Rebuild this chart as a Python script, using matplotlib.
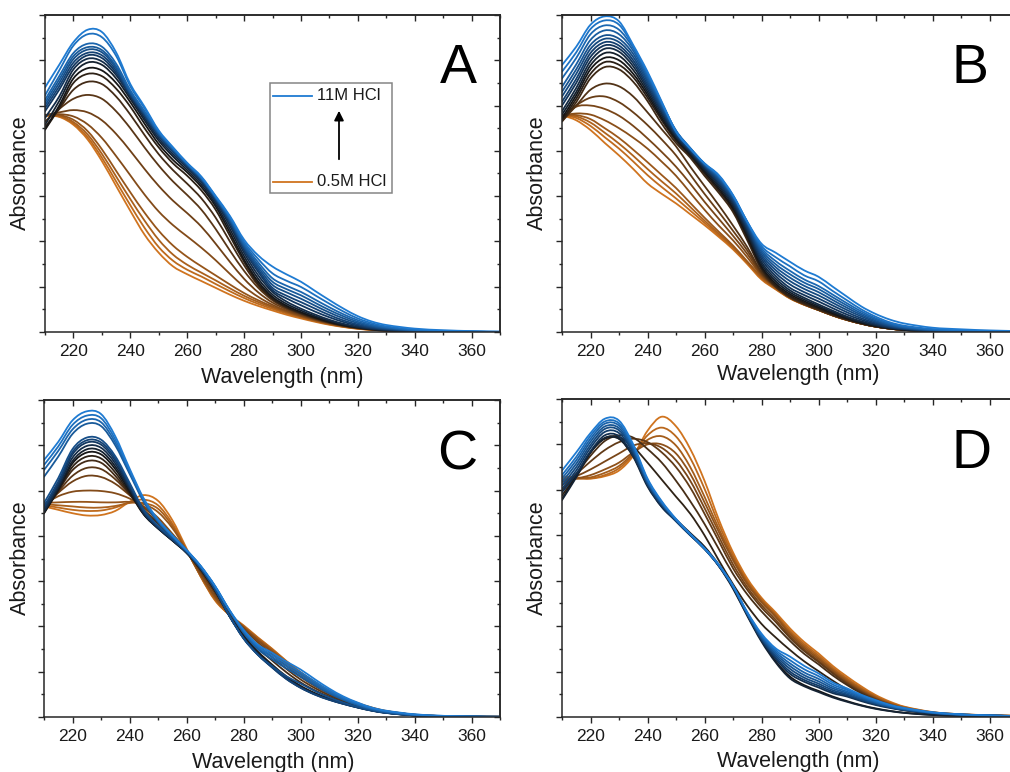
import numpy as np
import matplotlib
matplotlib.use("Agg")
import matplotlib.pyplot as plt
from matplotlib.colors import LinearSegmentedColormap
from matplotlib.ticker import MultipleLocator
from matplotlib.patches import Rectangle, FancyArrowPatch, PathPatch
from matplotlib.lines import Line2D
from matplotlib.path import Path

plt.rcParams['font.family'] = ['Liberation Sans', 'DejaVu Sans']

wavelength = [210, 215, 220, 225, 230, 235, 240, 245, 250, 255, 260, 265, 270, 275,
              280, 285, 290, 295, 300, 305, 310, 315, 320, 325, 330, 340, 350, 360, 370]

# rows ordered from 0.5M HCl (orange) to 11M HCl (blue)
panel_A = [
    [.955, .950, .915, .850, .755, .645, .535, .430, .350, .290, .255, .225, .195, .165, .138, .115, .095, .076, .060, .045, .032, .022, .014, .009, .006, .003, .001, 0, 0],
    [.956, .952, .920, .860, .770, .665, .560, .460, .375, .315, .275, .245, .212, .180, .150, .124, .102, .082, .064, .048, .034, .023, .015, .010, .006, .003, .001, 0, 0],
    [.957, .955, .927, .872, .787, .687, .587, .492, .407, .342, .297, .262, .228, .193, .160, .132, .108, .086, .067, .050, .036, .024, .016, .010, .006, .003, .001, 0, 0],
    [.958, .958, .937, .887, .807, .712, .617, .527, .447, .382, .332, .290, .250, .210, .172, .140, .113, .090, .070, .052, .037, .025, .016, .010, .006, .003, .001, 0, 0],
    [.958, .962, .952, .917, .857, .777, .692, .607, .532, .472, .422, .372, .317, .257, .200, .155, .120, .094, .072, .054, .038, .026, .017, .011, .007, .003, .001, 0, 0],
    [.958, .970, .980, .970, .935, .875, .800, .720, .645, .580, .525, .465, .390, .310, .235, .175, .130, .100, .076, .056, .040, .027, .017, .011, .007, .003, .001, 0, 0],
    [.930, .985, 1.030, 1.047, 1.030, .975, .900, .815, .735, .665, .605, .540, .455, .360, .270, .195, .140, .105, .080, .058, .041, .028, .018, .011, .007, .003, .001, 0, 0],
    [.905, .985, 1.070, 1.105, 1.095, 1.040, .960, .870, .785, .715, .655, .590, .505, .400, .295, .205, .145, .108, .082, .060, .042, .028, .018, .011, .007, .003, .001, 0, 0],
    [.893, .990, 1.100, 1.140, 1.130, 1.075, .995, .900, .815, .745, .690, .625, .540, .425, .310, .212, .148, .110, .084, .062, .043, .029, .019, .012, .007, .003, .001, 0, 0],
    [.895, 1.000, 1.120, 1.165, 1.155, 1.100, 1.015, .920, .830, .760, .705, .640, .555, .440, .320, .222, .155, .116, .088, .065, .045, .030, .020, .012, .008, .003, .001, 0, 0],
    [.915, 1.020, 1.140, 1.190, 1.180, 1.120, 1.030, .935, .845, .775, .715, .650, .565, .455, .335, .235, .165, .124, .095, .070, .049, .033, .021, .013, .008, .003, .001, 0, 0],
    [.945, 1.040, 1.160, 1.207, 1.195, 1.135, 1.040, .945, .855, .785, .725, .660, .575, .470, .350, .250, .177, .134, .103, .077, .054, .036, .023, .014, .009, .004, .001, 0, 0],
    [.975, 1.070, 1.175, 1.222, 1.210, 1.145, 1.045, .955, .865, .795, .732, .668, .583, .482, .362, .265, .185, .148, .118, .090, .065, .044, .028, .017, .011, .004, .002, .001, 0],
    [.988, 1.085, 1.190, 1.233, 1.222, 1.155, 1.050, .960, .870, .800, .736, .673, .588, .488, .370, .275, .195, .160, .132, .103, .075, .051, .033, .020, .013, .005, .002, .001, 0],
    [1.000, 1.100, 1.205, 1.247, 1.235, 1.165, 1.055, .965, .874, .804, .739, .676, .591, .493, .376, .285, .208, .175, .147, .116, .086, .060, .039, .024, .015, .006, .002, .001, 0],
    [1.012, 1.115, 1.218, 1.258, 1.245, 1.173, 1.060, .970, .877, .807, .741, .678, .594, .498, .383, .295, .222, .189, .162, .129, .097, .069, .045, .028, .018, .007, .003, .001, 0],
    [1.025, 1.130, 1.232, 1.273, 1.260, 1.185, 1.068, .975, .881, .810, .743, .680, .596, .503, .390, .307, .237, .204, .177, .143, .109, .078, .052, .033, .021, .008, .003, .001, 0],
    [1.045, 1.155, 1.265, 1.315, 1.302, 1.220, 1.085, .988, .886, .813, .745, .683, .598, .508, .398, .322, .259, .226, .199, .162, .125, .090, .060, .039, .025, .010, .004, .002, .001],
    [1.080, 1.180, 1.280, 1.335, 1.325, 1.235, 1.095, .995, .890, .816, .747, .686, .601, .513, .408, .338, .289, .254, .222, .181, .141, .103, .070, .046, .031, .015, .008, .004, .002],
]

panel_B = [
    [.958, .935, .892, .835, .780, .720, .656, .610, .568, .520, .472, .420, .365, .300, .232, .188, .148, .120, .097, .073, .053, .037, .024, .015, .009, .003, .001, 0, 0],
    [.958, .945, .910, .860, .810, .753, .693, .640, .590, .536, .482, .427, .370, .304, .236, .190, .149, .120, .097, .073, .053, .037, .024, .015, .009, .003, .001, 0, 0],
    [.958, .952, .925, .880, .832, .778, .720, .665, .612, .552, .492, .434, .376, .308, .240, .192, .150, .121, .097, .073, .053, .037, .024, .015, .009, .003, .001, 0, 0],
    [.958, .958, .940, .900, .857, .805, .750, .693, .636, .570, .505, .443, .382, .312, .244, .194, .151, .121, .097, .073, .053, .037, .024, .015, .009, .003, .001, 0, 0],
    [.955, .965, .960, .935, .900, .858, .810, .752, .690, .615, .540, .470, .405, .330, .250, .196, .152, .122, .098, .074, .054, .037, .024, .015, .009, .003, .001, 0, 0],
    [.945, .995, 1.000, .985, .955, .910, .855, .795, .730, .655, .575, .500, .425, .345, .255, .198, .153, .123, .098, .074, .054, .037, .024, .015, .009, .003, .001, 0, 0],
    [.940, 1.000, 1.035, 1.040, 1.015, .970, .914, .850, .780, .695, .610, .530, .447, .360, .260, .200, .153, .123, .098, .074, .054, .037, .024, .015, .009, .003, .001, 0, 0],
    [.930, 1.000, 1.070, 1.097, 1.085, 1.040, .970, .895, .820, .730, .645, .560, .470, .375, .265, .200, .153, .123, .098, .074, .054, .037, .024, .015, .009, .003, .001, 0, 0],
    [.930, 1.015, 1.120, 1.170, 1.160, 1.105, 1.020, .920, .835, .770, .690, .615, .530, .405, .275, .200, .155, .125, .100, .076, .055, .038, .025, .015, .009, .003, .001, 0, 0],
    [.935, 1.030, 1.140, 1.192, 1.180, 1.125, 1.035, .935, .845, .778, .700, .625, .540, .415, .282, .206, .160, .130, .104, .079, .057, .039, .025, .016, .010, .003, .001, 0, 0],
    [.945, 1.045, 1.160, 1.211, 1.200, 1.140, 1.048, .945, .853, .785, .708, .634, .548, .425, .290, .214, .167, .136, .109, .083, .060, .041, .027, .017, .010, .004, .001, 0, 0],
    [.960, 1.060, 1.178, 1.232, 1.220, 1.157, 1.060, .955, .860, .790, .715, .643, .557, .435, .300, .224, .175, .143, .115, .088, .064, .044, .029, .018, .011, .004, .002, 0, 0],
    [.975, 1.078, 1.196, 1.251, 1.238, 1.173, 1.072, .965, .866, .795, .722, .651, .566, .445, .310, .235, .184, .151, .122, .094, .068, .047, .031, .019, .012, .004, .002, 0, 0],
    [1.000, 1.100, 1.215, 1.266, 1.252, 1.187, 1.083, .975, .871, .800, .728, .659, .574, .455, .322, .247, .195, .163, .135, .105, .077, .054, .035, .021, .013, .005, .002, .001, 0],
    [1.017, 1.118, 1.232, 1.280, 1.265, 1.200, 1.094, .983, .876, .803, .732, .666, .582, .463, .333, .260, .210, .176, .148, .117, .087, .061, .040, .024, .015, .006, .003, .001, 0],
    [1.040, 1.140, 1.250, 1.295, 1.280, 1.214, 1.105, .990, .880, .806, .736, .672, .588, .471, .343, .273, .225, .190, .162, .129, .097, .069, .045, .027, .017, .007, .003, .001, 0],
    [1.061, 1.160, 1.268, 1.310, 1.295, 1.228, 1.115, .998, .884, .809, .739, .678, .594, .477, .353, .286, .240, .204, .176, .141, .107, .076, .050, .030, .019, .008, .004, .002, .001],
    [1.083, 1.182, 1.290, 1.332, 1.315, 1.242, 1.125, 1.004, .887, .811, .741, .683, .598, .482, .362, .299, .255, .218, .190, .153, .117, .083, .056, .034, .021, .009, .005, .002, .001],
    [1.120, 1.210, 1.315, 1.354, 1.335, 1.254, 1.135, 1.009, .890, .813, .743, .687, .601, .485, .371, .313, .270, .232, .203, .165, .127, .091, .061, .038, .024, .011, .006, .003, .001],
    [1.150, 1.235, 1.338, 1.376, 1.357, 1.262, 1.143, 1.013, .888, .811, .744, .690, .603, .487, .380, .330, .290, .250, .224, .181, .140, .100, .068, .043, .028, .013, .007, .004, .002],
    [1.179, 1.260, 1.357, 1.394, 1.372, 1.267, 1.150, 1.017, .885, .810, .745, .693, .605, .487, .390, .350, .310, .272, .244, .200, .156, .113, .080, .055, .038, .019, .012, .007, .004],
]

panel_C = [
    [.930, .915, .900, .890, .892, .910, .950, .980, .955, .870, .745, .620, .515, .452, .405, .352, .302, .248, .198, .155, .118, .087, .062, .042, .027, .010, .004, .002, .001],
    [.935, .925, .915, .910, .912, .925, .948, .960, .935, .855, .740, .620, .518, .452, .402, .350, .300, .246, .197, .154, .117, .086, .061, .041, .026, .010, .004, .002, .001],
    [.940, .935, .930, .925, .925, .932, .945, .945, .920, .845, .737, .622, .522, .452, .400, .347, .297, .244, .195, .152, .116, .085, .060, .040, .026, .010, .004, .002, .001],
    [.945, .948, .950, .950, .948, .948, .950, .940, .905, .835, .735, .625, .528, .455, .398, .343, .293, .241, .193, .150, .114, .084, .059, .040, .025, .010, .004, .002, .001],
    [.940, .975, .995, 1.000, .998, .988, .965, .930, .880, .810, .735, .630, .535, .460, .395, .338, .287, .236, .188, .146, .111, .082, .057, .038, .024, .009, .004, .002, .001],
    [.930, .990, 1.040, 1.065, 1.060, 1.030, .980, .925, .870, .800, .733, .640, .545, .460, .390, .330, .278, .226, .178, .137, .104, .077, .054, .036, .023, .009, .004, .002, .001],
    [.920, .995, 1.065, 1.100, 1.095, 1.050, .985, .915, .860, .795, .731, .645, .552, .458, .380, .318, .265, .213, .166, .128, .097, .072, .051, .034, .022, .008, .003, .001, 0],
    [.910, 1.000, 1.090, 1.130, 1.123, 1.065, .985, .905, .855, .790, .730, .650, .558, .455, .372, .305, .250, .198, .153, .118, .090, .067, .048, .032, .021, .008, .003, .001, 0],
    [.900, 1.000, 1.105, 1.150, 1.142, 1.080, .990, .895, .835, .780, .725, .652, .560, .450, .362, .290, .232, .180, .138, .106, .082, .062, .045, .030, .020, .007, .003, .001, 0],
    [.900, 1.005, 1.120, 1.168, 1.160, 1.095, .998, .895, .833, .780, .725, .653, .560, .448, .357, .285, .228, .176, .135, .104, .080, .061, .044, .030, .019, .007, .003, .001, 0],
    [.905, 1.010, 1.130, 1.182, 1.174, 1.107, 1.005, .897, .833, .781, .726, .654, .561, .447, .353, .281, .225, .173, .133, .102, .079, .060, .043, .029, .019, .007, .003, .001, 0],
    [.910, 1.020, 1.145, 1.197, 1.189, 1.120, 1.012, .900, .835, .782, .727, .655, .562, .447, .350, .278, .222, .171, .131, .101, .078, .059, .043, .029, .019, .007, .003, .001, 0],
    [.920, 1.030, 1.160, 1.212, 1.203, 1.132, 1.020, .905, .838, .784, .728, .656, .563, .447, .348, .276, .220, .169, .130, .100, .077, .058, .042, .028, .018, .007, .003, .001, 0],
    [.930, 1.040, 1.170, 1.222, 1.213, 1.142, 1.027, .910, .841, .786, .729, .657, .564, .448, .347, .275, .219, .168, .129, .099, .076, .058, .042, .028, .018, .007, .003, .001, 0],
    [.945, 1.055, 1.183, 1.234, 1.225, 1.152, 1.035, .915, .845, .790, .731, .659, .566, .450, .348, .276, .225, .180, .148, .115, .087, .064, .045, .030, .019, .008, .003, .001, 0],
    [1.061, 1.150, 1.250, 1.295, 1.285, 1.200, 1.075, .950, .862, .797, .735, .664, .576, .470, .372, .300, .255, .215, .178, .140, .105, .076, .052, .034, .022, .009, .004, .002, .001],
    [1.091, 1.175, 1.270, 1.313, 1.302, 1.213, 1.082, .955, .866, .799, .736, .665, .577, .472, .377, .307, .265, .225, .188, .148, .111, .080, .056, .036, .024, .010, .004, .002, .001],
    [1.113, 1.195, 1.290, 1.331, 1.320, 1.226, 1.090, .960, .869, .801, .737, .666, .578, .473, .382, .313, .274, .235, .198, .157, .118, .085, .059, .039, .026, .011, .005, .002, .001],
    [1.135, 1.215, 1.310, 1.350, 1.338, 1.240, 1.098, .965, .872, .803, .738, .667, .579, .474, .386, .320, .284, .245, .210, .167, .126, .091, .064, .042, .028, .012, .005, .002, .001],
]

panel_D = [
    [1.060, 1.055, 1.050, 1.060, 1.085, 1.150, 1.260, 1.322, 1.280, 1.180, 1.040, .870, .725, .610, .525, .460, .390, .330, .280, .225, .178, .135, .097, .068, .046, .022, .012, .008, .005],
    [1.055, 1.050, 1.050, 1.065, 1.095, 1.155, 1.240, 1.274, 1.235, 1.140, 1.005, .850, .712, .600, .518, .452, .380, .321, .271, .217, .170, .128, .092, .064, .044, .021, .012, .008, .005],
    [1.050, 1.050, 1.055, 1.075, 1.105, 1.160, 1.220, 1.236, 1.195, 1.100, .970, .830, .700, .593, .512, .446, .372, .313, .263, .210, .164, .123, .088, .061, .042, .020, .011, .007, .005],
    [1.045, 1.050, 1.065, 1.090, 1.120, 1.165, 1.200, 1.200, 1.160, 1.070, .945, .815, .690, .585, .505, .440, .365, .305, .256, .204, .158, .118, .084, .058, .040, .019, .011, .007, .004],
    [1.035, 1.060, 1.090, 1.125, 1.160, 1.195, 1.205, 1.185, 1.130, 1.040, .920, .795, .672, .572, .493, .428, .356, .297, .248, .197, .152, .113, .080, .055, .038, .018, .010, .006, .004],
    [1.020, 1.070, 1.125, 1.175, 1.210, 1.225, 1.210, 1.165, 1.100, 1.010, .895, .775, .655, .560, .482, .418, .348, .290, .242, .192, .147, .109, .078, .054, .037, .017, .010, .006, .004],
    [1.000, 1.070, 1.150, 1.215, 1.240, 1.230, 1.180, 1.120, 1.040, .950, .850, .740, .630, .540, .465, .400, .335, .278, .232, .183, .141, .104, .074, .051, .035, .016, .009, .005, .003],
    [.975, 1.065, 1.165, 1.228, 1.232, 1.190, 1.120, 1.045, .970, .895, .800, .690, .585, .490, .410, .350, .295, .245, .202, .160, .122, .090, .064, .044, .030, .014, .008, .005, .003],
    [.960, 1.060, 1.165, 1.225, 1.225, 1.150, 1.030, .935, .870, .810, .750, .670, .570, .450, .340, .245, .178, .140, .115, .090, .070, .052, .038, .027, .019, .009, .005, .003, .002],
    [.955, 1.055, 1.165, 1.228, 1.225, 1.145, 1.015, .925, .865, .805, .745, .665, .565, .445, .332, .240, .170, .135, .110, .086, .067, .050, .036, .026, .018, .009, .005, .003, .002],
    [.990, 1.070, 1.170, 1.240, 1.236, 1.150, 1.020, .925, .862, .800, .740, .665, .572, .450, .338, .255, .190, .155, .130, .105, .090, .070, .053, .040, .030, .016, .009, .006, .004],
    [1.005, 1.085, 1.185, 1.255, 1.250, 1.162, 1.025, .933, .862, .800, .740, .666, .573, .452, .343, .262, .200, .163, .138, .111, .095, .074, .056, .042, .031, .017, .010, .006, .004],
    [1.020, 1.100, 1.198, 1.268, 1.262, 1.170, 1.030, .937, .865, .802, .741, .667, .574, .454, .347, .270, .212, .173, .147, .118, .100, .078, .060, .044, .033, .018, .010, .006, .004],
    [1.035, 1.115, 1.212, 1.279, 1.272, 1.178, 1.035, .940, .867, .803, .741, .668, .575, .456, .352, .278, .224, .184, .157, .126, .106, .083, .063, .046, .034, .018, .010, .006, .004],
    [1.050, 1.130, 1.225, 1.291, 1.283, 1.186, 1.040, .943, .868, .804, .742, .669, .576, .458, .357, .286, .236, .196, .168, .134, .112, .088, .066, .049, .036, .019, .011, .007, .004],
    [1.065, 1.145, 1.238, 1.301, 1.293, 1.193, 1.045, .946, .870, .805, .742, .670, .577, .460, .362, .294, .250, .210, .180, .143, .119, .093, .070, .051, .038, .020, .011, .007, .004],
    [1.085, 1.165, 1.250, 1.313, 1.305, 1.200, 1.050, .950, .872, .806, .743, .671, .578, .462, .367, .302, .266, .225, .192, .152, .126, .098, .075, .054, .040, .021, .012, .007, .004],
]

panel_letters = ['A', 'B', 'C', 'D']
x_ticks = [220, 240, 260, 280, 300, 320, 340, 360]
legend_labels = ['11M HCl', '0.5M HCl']

W, H = 1010, 772
fig = plt.figure(figsize=(W / 100, H / 100), dpi=100)


def fx(x):
    return x / W


def fy(y):
    return 1 - y / H


def smooth_path(xs, ys):
    """Path through every data point, drawn with cubic Bezier segments
    (Hermite tangents), like Origin's spline-connected line style."""
    xs = np.asarray(xs, float)
    ys = np.asarray(ys, float)
    n = len(xs)
    m = np.empty(n)
    m[1:-1] = (ys[2:] - ys[:-2]) / (xs[2:] - xs[:-2])
    m[0] = (ys[1] - ys[0]) / (xs[1] - xs[0])
    m[-1] = (ys[-1] - ys[-2]) / (xs[-1] - xs[-2])
    verts = [(xs[0], ys[0])]
    codes = [Path.MOVETO]
    for i in range(n - 1):
        h = xs[i + 1] - xs[i]
        verts += [(xs[i] + h / 3, ys[i] + m[i] * h / 3),
                  (xs[i + 1] - h / 3, ys[i + 1] - m[i + 1] * h / 3),
                  (xs[i + 1], ys[i + 1])]
        codes += [Path.CURVE4] * 3
    return Path(verts, codes)


cmap = LinearSegmentedColormap.from_list(
    'hcl', [(0.0, '#d0741f'), (0.28, '#6e4017'), (0.5, '#161616'),
            (0.68, '#123a66'), (1.0, '#1f7bd2')])

# axes boxes in pixels: left, top, right, bottom
boxes = [(45, 15, 500, 332), (562, 15, 1018, 332),
         (44, 400, 500, 717), (562, 399, 1018, 717)]
panels = [panel_A, panel_B, panel_C, panel_D]
axcol = '#262626'

for (l, t, r, b), data in zip(boxes, panels):
    ax = fig.add_axes([fx(l), fy(b), (r - l) / W, (b - t) / H])
    n = len(data)
    for i, row in enumerate(data):
        ax.add_patch(PathPatch(smooth_path(wavelength, row), fill=False,
                               edgecolor=cmap(i / (n - 1)), lw=1.3,
                               joinstyle='round', capstyle='round'))
    ax.set_xlim(210, 370)
    ax.set_ylim(0, 1.4)
    ax.set_xticks(x_ticks)
    ax.xaxis.set_minor_locator(MultipleLocator(10))
    ax.yaxis.set_major_locator(MultipleLocator(0.2))
    ax.yaxis.set_minor_locator(MultipleLocator(0.1))
    ax.tick_params(which='both', direction='out', top=False, right=False,
                   labelleft=False, labelsize=12.5, width=1.0, color=axcol,
                   labelcolor='#1a1a1a', pad=4)
    ax.tick_params(which='major', length=4.5)
    ax.tick_params(which='minor', length=2.5)
    for s in ax.spines.values():
        s.set_linewidth(1.1)
        s.set_color(axcol)
    sx = ax.secondary_xaxis('top')
    sx.set_xticks(x_ticks)
    sx.xaxis.set_minor_locator(MultipleLocator(10))
    sx.tick_params(axis='x', which='both', direction='in', labeltop=False,
                   labelbottom=False, width=1.0, color=axcol)
    sx.tick_params(which='major', length=4)
    sx.tick_params(which='minor', length=2.5)
    sx.spines['top'].set_linewidth(1.1)
    sx.spines['top'].set_color(axcol)
    sy = ax.secondary_yaxis('right')
    sy.yaxis.set_major_locator(MultipleLocator(0.2))
    sy.yaxis.set_minor_locator(MultipleLocator(0.1))
    sy.tick_params(axis='y', which='both', direction='in', labelright=False,
                   labelleft=False, width=1.0, color=axcol)
    sy.tick_params(which='major', length=4)
    sy.tick_params(which='minor', length=2.5)
    sy.spines['right'].set_linewidth(1.1)
    sy.spines['right'].set_color(axcol)

# axis titles
for (x, y) in [(282, 383), (798, 380), (273, 768), (798, 767)]:
    fig.text(fx(x), fy(y), 'Wavelength (nm)', ha='center', va='baseline',
             fontsize=15.5, color='#1a1a1a')
for (x, y) in [(20, 173), (537, 173), (20, 558), (537, 558)]:
    fig.text(fx(x), fy(y), 'Absorbance', ha='center', va='center',
             rotation=90, fontsize=15.5, color='#1a1a1a')

# panel letters
for letter, (x, y) in zip(panel_letters, [(458, 83), (970, 83), (457, 469), (971, 468)]):
    fig.text(fx(x), fy(y), letter, ha='center', va='baseline', fontsize=40,
             color='black')

# legend in panel A
fig.add_artist(Rectangle((fx(270), fy(193)), (392 - 270) / W, (193 - 83) / H,
                         transform=fig.transFigure, facecolor='white',
                         edgecolor='#858585', lw=1.1))
fig.add_artist(Line2D([fx(273), fx(312)], [fy(96), fy(96)],
                      transform=fig.transFigure, color=cmap(1.0), lw=1.3))
fig.add_artist(Line2D([fx(273), fx(312)], [fy(182), fy(182)],
                      transform=fig.transFigure, color=cmap(0.0), lw=1.3))
fig.text(fx(317), fy(96), legend_labels[0], ha='left', va='center',
         fontsize=12, color='#1a1a1a')
fig.text(fx(317), fy(182), legend_labels[1], ha='left', va='center',
         fontsize=12, color='#1a1a1a')
fig.add_artist(FancyArrowPatch((fx(339), fy(162)), (fx(339), fy(108)),
                               transform=fig.transFigure, arrowstyle='-|>',
                               mutation_scale=14, lw=1.3, color='black'))

fig.savefig('out.png', dpi=100)
